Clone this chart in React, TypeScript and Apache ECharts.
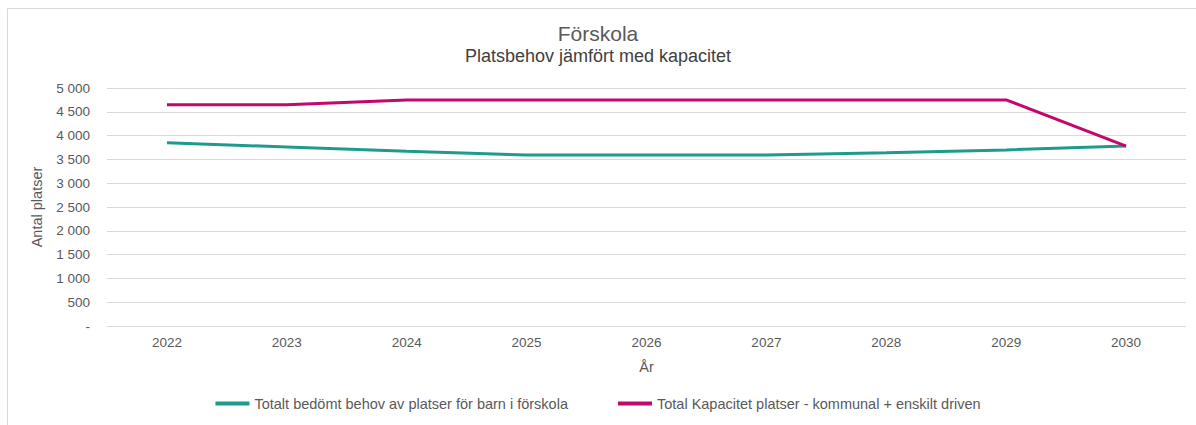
import React, { useEffect, useRef } from "react";
import * as echarts from "echarts";

const years = ["2022", "2023", "2024", "2025", "2026", "2027", "2028", "2029", "2030"];
const behov = [3850, 3760, 3670, 3590, 3590, 3590, 3640, 3700, 3780];
const kapacitet = [4650, 4650, 4750, 4750, 4750, 4750, 4750, 4750, 3780];
const seriesNames = [
  "Totalt bedömt behov av platser för barn i förskola",
  "Total Kapacitet platser - kommunal + enskilt driven",
];

function fmt(v: number) {
  if (v === 0) return "-";
  const s = String(Math.round(v));
  return s.replace(/\B(?=(\d{3})+(?!\d))/g, " ");
}

export default function App() {
  const ref = useRef<HTMLDivElement>(null);
  useEffect(() => {
    if (!ref.current) return;
    const chart = echarts.init(ref.current, null, { renderer: "svg" });
    const font = "'Liberation Sans', Arial, sans-serif";
    chart.setOption({
      animation: false,
      backgroundColor: "#ffffff",
      textStyle: { fontFamily: font },
      title: {
        text: "Förskola",
        subtext: "Platsbehov jämfört med kapacitet",
        left: "center",
        top: 18,
        itemGap: 3,
        textStyle: { fontFamily: font, fontSize: 21, fontWeight: "normal", color: "#595959" },
        subtextStyle: { fontFamily: font, fontSize: 18, color: "#404040" },
      },
      graphic: [
        {
          type: "rect",
          shape: { x: 7.5, y: 8.5, width: 1200, height: 430 },
          style: { fill: "none", stroke: "#d9d9d9", lineWidth: 1 },
          silent: true,
        },
      ],
      legend: {
        bottom: 9,
        left: "center",
        itemWidth: 34,
        itemHeight: 4,
        itemGap: 50,
        icon: "rect",
        textStyle: { fontFamily: font, fontSize: 14.5, color: "#595959" },
        data: seriesNames,
      },
      grid: { left: 107, right: 10, top: 88, bottom: 99 },
      xAxis: {
        type: "category",
        data: years,
        boundaryGap: true,
        name: "År",
        nameLocation: "middle",
        nameGap: 33,
        nameTextStyle: { fontFamily: font, fontSize: 14.5, color: "#595959" },
        axisLine: { show: false },
        axisTick: { show: false },
        axisLabel: { margin: 9, fontSize: 13.5, color: "#595959", fontFamily: font },
      },
      yAxis: {
        type: "value",
        min: 0,
        max: 5000,
        interval: 500,
        name: "Antal platser",
        nameLocation: "middle",
        nameGap: 63,
        nameTextStyle: { fontFamily: font, fontSize: 14.5, color: "#595959" },
        axisLine: { show: false },
        axisTick: { show: false },
        axisLabel: { margin: 17, fontSize: 13.5, color: "#595959", fontFamily: font, formatter: fmt },
        splitLine: { lineStyle: { color: "#d9d9d9", width: 1 } },
      },
      series: [
        {
          name: seriesNames[0],
          type: "line",
          data: behov,
          symbol: "none",
          lineStyle: { color: "#1f9b8b", width: 3 },
          itemStyle: { color: "#1f9b8b" },
        },
        {
          name: seriesNames[1],
          type: "line",
          data: kapacitet,
          symbol: "none",
          lineStyle: { color: "#c5076d", width: 3 },
          itemStyle: { color: "#c5076d" },
        },
      ],
    });
    return () => chart.dispose();
  }, []);
  return (
    <div
      ref={ref}
      style={{ position: "fixed", left: 0, top: 0, width: 1196, height: 425 }}
    />
  );
}
